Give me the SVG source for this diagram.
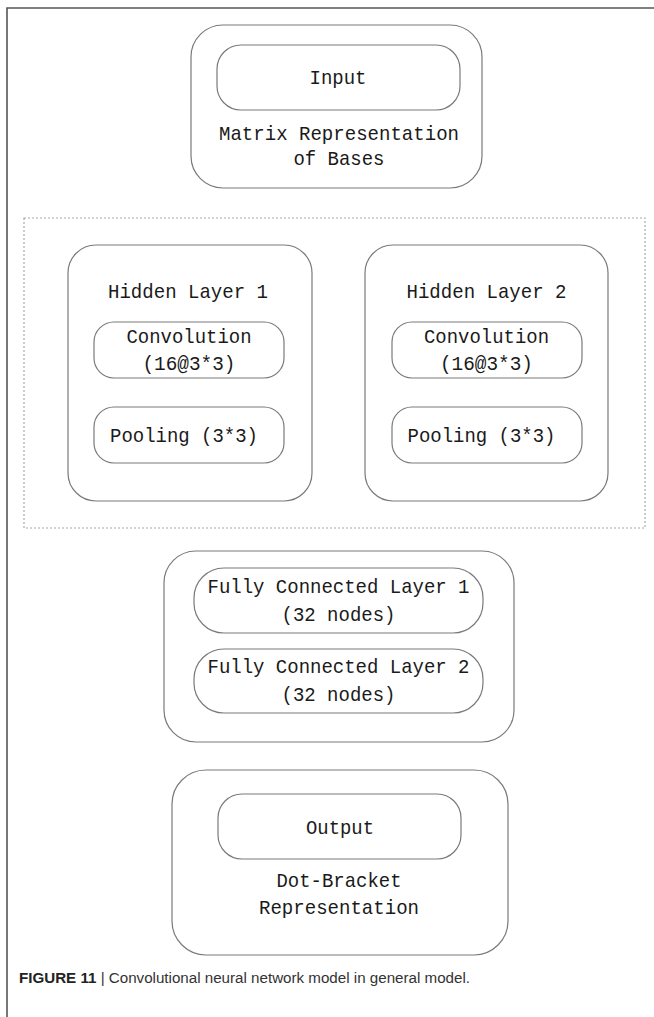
<svg xmlns="http://www.w3.org/2000/svg" width="654" height="1017" viewBox="0 0 654 1017">
<style>
.box{fill:none;stroke:#7a7a7a;stroke-width:1.2}
.frame{fill:none;stroke:#555;stroke-width:1.6}
.dash{fill:none;stroke:#aaa;stroke-width:1.2;stroke-dasharray:2,2}
.t{font-family:"Liberation Mono","DejaVu Sans Mono",monospace;font-size:21px;fill:#1a1a1a;text-anchor:middle}
.cap{font-family:"Liberation Sans",Arial,sans-serif;font-size:15.5px;fill:#333}
.capb{font-weight:bold;fill:#222}
</style>
<rect width="654" height="1017" fill="#fff"/>
<g id="frame">
<polyline class="frame" points="654,8 7,8 7,1017"/>
</g>
<g id="hidden-group">
<rect class="dash" x="24" y="218" width="621" height="310"/>
</g>
<g id="input-node">
<rect class="box" x="191" y="25" width="291" height="163" rx="32"/>
<rect class="box" x="217" y="45" width="243" height="65" rx="24"/>
<text class="t" x="338" y="84" textLength="57" lengthAdjust="spacingAndGlyphs">Input</text>
<text class="t" x="339" y="140" textLength="240" lengthAdjust="spacingAndGlyphs">Matrix Representation</text>
<text class="t" x="339" y="165" textLength="91" lengthAdjust="spacingAndGlyphs">of Bases</text>
</g>
<g id="hidden1">
<rect class="box" x="68" y="245" width="244" height="256" rx="28"/>
<text class="t" x="188" y="298" textLength="160" lengthAdjust="spacingAndGlyphs">Hidden Layer 1</text>
<g id="conv1">
<rect class="box" x="94" y="322" width="190" height="56" rx="20"/>
<text class="t" x="189" y="343" textLength="125" lengthAdjust="spacingAndGlyphs">Convolution</text>
<text class="t" x="189" y="370" textLength="93" lengthAdjust="spacingAndGlyphs">(16@3*3)</text>
</g>
<g id="pool1">
<rect class="box" x="94" y="407" width="190" height="56" rx="20"/>
<text class="t" x="184" y="442" textLength="148" lengthAdjust="spacingAndGlyphs">Pooling (3*3)</text>
</g>
</g>
<g id="hidden2">
<rect class="box" x="365" y="245" width="243" height="256" rx="28"/>
<text class="t" x="486.5" y="298" textLength="160" lengthAdjust="spacingAndGlyphs">Hidden Layer 2</text>
<g id="conv2">
<rect class="box" x="392" y="322" width="190" height="56" rx="20"/>
<text class="t" x="486.5" y="343" textLength="125" lengthAdjust="spacingAndGlyphs">Convolution</text>
<text class="t" x="486.5" y="370" textLength="93" lengthAdjust="spacingAndGlyphs">(16@3*3)</text>
</g>
<g id="pool2">
<rect class="box" x="392" y="407" width="190" height="56" rx="20"/>
<text class="t" x="481.5" y="442" textLength="148" lengthAdjust="spacingAndGlyphs">Pooling (3*3)</text>
</g>
</g>
<g id="fc">
<rect class="box" x="164" y="551" width="350" height="191" rx="32"/>
<g id="fc1">
<rect class="box" x="194" y="568" width="289" height="65" rx="30"/>
<text class="t" x="338.5" y="593" textLength="262" lengthAdjust="spacingAndGlyphs">Fully Connected Layer 1</text>
<text class="t" x="338.5" y="621" textLength="114" lengthAdjust="spacingAndGlyphs">(32 nodes)</text>
</g>
<g id="fc2">
<rect class="box" x="194" y="649" width="289" height="64" rx="30"/>
<text class="t" x="338.5" y="673" textLength="262" lengthAdjust="spacingAndGlyphs">Fully Connected Layer 2</text>
<text class="t" x="338.5" y="701" textLength="114" lengthAdjust="spacingAndGlyphs">(32 nodes)</text>
</g>
</g>
<g id="output-node">
<rect class="box" x="172" y="770" width="336" height="185" rx="34"/>
<rect class="box" x="218" y="794" width="243" height="65" rx="24"/>
<text class="t" x="340" y="834" textLength="68" lengthAdjust="spacingAndGlyphs">Output</text>
<text class="t" x="339" y="887" textLength="125" lengthAdjust="spacingAndGlyphs">Dot-Bracket</text>
<text class="t" x="339" y="914" textLength="160" lengthAdjust="spacingAndGlyphs">Representation</text>
</g>
<g id="connectors"></g>
<g id="caption">
<text class="cap" x="19" y="983" textLength="451" lengthAdjust="spacingAndGlyphs"><tspan class="capb">FIGURE 11</tspan> | Convolutional neural network model in general model.</text>
</g>
</svg>
